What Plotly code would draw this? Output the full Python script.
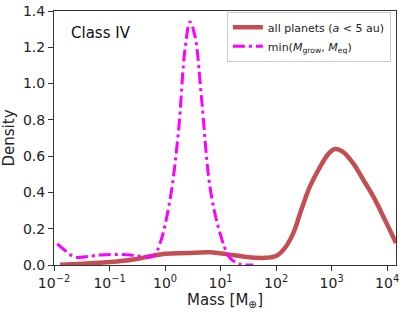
import plotly.graph_objects as go

# log10(mass) and density
all_logm = [-1.89, -1.5, -0.99, -0.57, -0.27, 0.0, 0.39, 0.81, 1.1, 1.47, 1.77, 2.0, 2.15, 2.31, 2.45, 2.61, 2.79, 2.95, 3.06, 3.2, 3.39, 3.57, 3.75, 3.99, 4.16]
all_dens = [0.002, 0.007, 0.016, 0.03, 0.048, 0.062, 0.066, 0.07, 0.06, 0.044, 0.039, 0.05, 0.09, 0.176, 0.30, 0.433, 0.54, 0.615, 0.639, 0.625, 0.56, 0.47, 0.378, 0.23, 0.121]

min_logm = [-1.94, -1.8, -1.62, -1.17, -0.69, -0.45, -0.21, -0.09, 0.09, 0.24, 0.36, 0.45, 0.54, 0.66, 0.81, 0.99, 1.17, 1.35, 1.59]
min_dens = [0.116, 0.08, 0.044, 0.055, 0.057, 0.048, 0.05, 0.12, 0.36, 0.73, 1.19, 1.34, 1.26, 0.91, 0.43, 0.176, 0.039, 0.005, 0.0]

x_tickvals = [1e-2, 1e-1, 1e0, 1e1, 1e2, 1e3, 1e4]
x_ticktext = ["10<sup>−2</sup>", "10<sup>−1</sup>", "10<sup>0</sup>", "10<sup>1</sup>", "10<sup>2</sup>", "10<sup>3</sup>", "10<sup>4</sup>"]
y_tickvals = [0.0, 0.2, 0.4, 0.6, 0.8, 1.0, 1.2, 1.4]
y_ticktext = ["0.0", "0.2", "0.4", "0.6", "0.8", "1.0", "1.2", "1.4"]

fig = go.Figure()
fig.add_trace(go.Scatter(
    x=[10 ** v for v in all_logm], y=all_dens, mode="lines",
    line=dict(color="#C44E52", width=4.5, shape="spline", smoothing=1.0),
    name="all planets (<i>a</i> < 5 au)"))
fig.add_trace(go.Scatter(
    x=[10 ** v for v in min_logm], y=min_dens, mode="lines",
    line=dict(color="#FF00FF", width=3, dash="12px,4px,3px,4px", shape="spline", smoothing=1.0),
    name="min(<i>M</i><sub>grow</sub>, <i>M</i><sub>eq</sub>)"))

font = "DejaVu Sans"
fig.update_layout(
    width=407, height=312,
    margin=dict(l=54, r=11, t=11, b=47, autoexpand=False),
    paper_bgcolor="white", plot_bgcolor="white",
    font=dict(family=font, size=13, color="#222"),
    showlegend=True,
    legend=dict(x=0.985, y=0.997, xanchor="right", yanchor="top",
                bgcolor="rgba(255,255,255,0.8)", bordercolor="#ccc", borderwidth=1,
                font=dict(size=11), tracegroupgap=0, itemwidth=30),
    annotations=[dict(text="Class IV", x=0.045, y=0.955, xref="paper", yref="paper",
                      xanchor="left", yanchor="top", showarrow=False,
                      font=dict(size=15, color="#111"))],
)
fig.update_xaxes(type="log", range=[-2, 4.16], tickvals=x_tickvals, ticktext=x_ticktext,
                 ticks="outside", ticklen=5, tickcolor="#333", showline=True, linecolor="#333",
                 linewidth=1, mirror=True, showgrid=False, zeroline=False, automargin=False,
                 title=dict(text="Mass [M<sub>⊕</sub>]", font=dict(size=15), standoff=2),
                 tickfont=dict(size=14))
fig.update_yaxes(range=[0, 1.4], tickvals=y_tickvals, ticktext=y_ticktext,
                 ticks="outside", ticklen=5, tickcolor="#333", showline=True, linecolor="#333",
                 linewidth=1, mirror=True, showgrid=False, zeroline=False, automargin=False,
                 title=dict(text="Density", font=dict(size=15), standoff=4),
                 tickfont=dict(size=14))
fig.write_html("out.html", config={"displayModeBar": False},
               post_script="document.body.style.margin='0';document.body.style.overflow='hidden';window.scrollTo(0,0);")
